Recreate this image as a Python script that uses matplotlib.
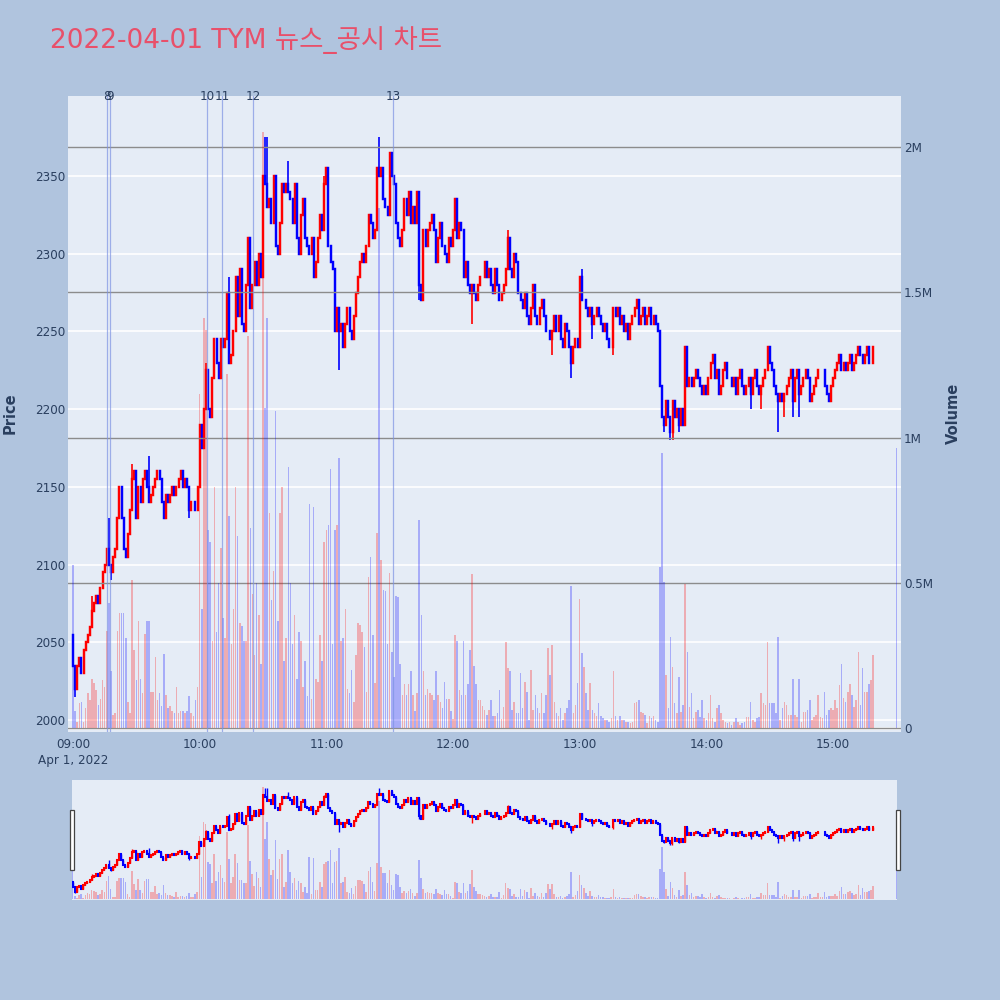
import numpy as np
import pandas as pd
import matplotlib
matplotlib.use("Agg")
import matplotlib.pyplot as plt
import matplotlib.transforms as mtransforms
from matplotlib.patches import Rectangle

plt.rcParams['font.family'] = ['DejaVu Sans', 'Noto Sans CJK KR']

TITLE = '2022-04-01 TYM 뉴스_공시 차트'

# minute close prices, one list per hour
close_09 = [2035, 2020, 2035, 2040, 2030, 2045, 2050, 2055, 2060, 2070,
            2075, 2080, 2075, 2085, 2095, 2100, 2110, 2100, 2095, 2105,
            2110, 2130, 2150, 2130, 2110, 2105, 2120, 2135, 2155, 2160,
            2130, 2150, 2140, 2155, 2160, 2150, 2140, 2145, 2150, 2155,
            2160, 2155, 2140, 2130, 2145, 2140, 2145, 2150, 2145, 2150,
            2155, 2160, 2150, 2155, 2150, 2135, 2140, 2140, 2135, 2150]
close_10 = [2190, 2175, 2200, 2225, 2200, 2195, 2220, 2245, 2230, 2220,
            2245, 2240, 2245, 2275, 2230, 2235, 2250, 2285, 2260, 2290,
            2255, 2250, 2280, 2310, 2265, 2280, 2295, 2280, 2300, 2285,
            2350, 2345, 2330, 2335, 2320, 2350, 2305, 2300, 2320, 2345,
            2340, 2345, 2340, 2335, 2320, 2345, 2310, 2300, 2325, 2335,
            2310, 2305, 2300, 2310, 2285, 2295, 2310, 2325, 2315, 2345]
close_11 = [2355, 2305, 2295, 2290, 2250, 2265, 2250, 2255, 2240, 2255,
            2265, 2250, 2245, 2260, 2275, 2285, 2295, 2300, 2295, 2305,
            2325, 2320, 2310, 2315, 2355, 2350, 2355, 2335, 2330, 2325,
            2365, 2350, 2345, 2320, 2310, 2305, 2315, 2335, 2325, 2340,
            2320, 2330, 2320, 2340, 2280, 2270, 2315, 2305, 2315, 2320,
            2325, 2315, 2295, 2310, 2320, 2305, 2300, 2295, 2310, 2305]
close_12 = [2315, 2335, 2310, 2320, 2315, 2285, 2295, 2280, 2275, 2280,
            2275, 2270, 2280, 2285, 2285, 2295, 2285, 2290, 2280, 2275,
            2290, 2280, 2270, 2275, 2280, 2290, 2310, 2290, 2285, 2300,
            2295, 2275, 2270, 2265, 2275, 2260, 2255, 2265, 2280, 2260,
            2255, 2265, 2270, 2260, 2250, 2250, 2245, 2250, 2260, 2250,
            2260, 2245, 2240, 2255, 2250, 2240, 2230, 2240, 2245, 2240]
close_13 = [2285, 2270, 2270, 2265, 2260, 2265, 2255, 2260, 2265, 2260,
            2255, 2250, 2255, 2245, 2240, 2240, 2265, 2260, 2265, 2255,
            2260, 2250, 2255, 2245, 2255, 2260, 2265, 2270, 2255, 2260,
            2265, 2255, 2260, 2265, 2255, 2260, 2255, 2250, 2215, 2195,
            2190, 2205, 2195, 2185, 2205, 2195, 2200, 2190, 2200, 2190,
            2240, 2215, 2220, 2215, 2220, 2225, 2220, 2215, 2210, 2215]
close_14 = [2210, 2220, 2230, 2235, 2220, 2225, 2210, 2215, 2225, 2230,
            2220, 2220, 2215, 2220, 2210, 2220, 2225, 2215, 2210, 2215,
            2220, 2210, 2220, 2225, 2215, 2210, 2215, 2220, 2225, 2240,
            2230, 2225, 2215, 2210, 2205, 2210, 2205, 2210, 2215, 2220,
            2225, 2205, 2220, 2225, 2210, 2215, 2220, 2225, 2220, 2205,
            2210, 2215, 2220, 2225, 2225, 2225, 2215, 2210, 2205, 2215]
close_15 = [2220, 2225, 2230, 2235, 2225, 2230, 2225, 2230, 2235, 2225,
            2230, 2235, 2240, 2235, 2230, 2235, 2240, 2230, 2230, 2240]

first_open = 2055
auction_price = 2235          # 15:30 closing auction
auction_volume = 964          # thousands

# wick extremes that reach past the body (minute index -> price)
wick_high = {9: 2080, 17: 2130, 28: 2165, 36: 2170, 63: 2230, 74: 2285, 83: 2310,
             91: 2375, 92: 2375, 102: 2360, 119: 2350, 145: 2375, 150: 2365,
             206: 2315, 241: 2290, 268: 2270, 329: 2240, 364: 2235}
wick_low = {1: 2015, 18: 2090, 55: 2130, 126: 2225, 164: 2270, 189: 2255, 227: 2235,
            236: 2220, 246: 2245, 256: 2235, 280: 2185, 283: 2180, 284: 2180,
            287: 2185, 321: 2200, 326: 2200, 334: 2185, 337: 2195, 341: 2195,
            344: 2195, 349: 2205}

# minute volumes in thousands of shares
vol_09 = [560, 60, 20, 85, 90, 20, 70, 120, 95, 170,
          155, 130, 80, 100, 165, 140, 335, 430, 195, 45,
          50, 335, 395, 395, 395, 310, 90, 50, 510, 270,
          165, 370, 170, 120, 325, 370, 370, 125, 125, 245,
          95, 120, 75, 255, 115, 70, 75, 60, 50, 140,
          50, 60, 60, 50, 60, 110, 50, 40, 95, 140]
vol_10 = [1150, 410, 1410, 1370, 680, 640, 300, 830, 330, 500,
          620, 380, 310, 1220, 730, 290, 410, 830, 660, 360,
          350, 300, 300, 1350, 690, 460, 250, 500, 390, 220,
          2050, 1100, 1410, 740, 440, 540, 1090, 370, 740, 830,
          230, 310, 900, 500, 290, 390, 170, 330, 300, 140,
          230, 110, 770, 100, 760, 170, 160, 320, 230, 640]
vol_11 = [680, 700, 890, 290, 680, 700, 930, 300, 310, 410,
          135, 120, 200, 90, 250, 360, 355, 330, 280, 125,
          520, 590, 320, 155, 670, 1790, 580, 475, 470, 290,
          535, 260, 175, 455, 450, 220, 115, 150, 115, 150,
          195, 115, 60, 120, 715, 390, 195, 115, 135, 120,
          115, 95, 195, 115, 90, 70, 160, 100, 100, 60]
vol_12 = [30, 320, 300, 130, 115, 300, 115, 150, 270, 530,
          215, 150, 95, 95, 75, 62, 45, 62, 96, 40,
          40, 50, 130, 30, 73, 297, 205, 195, 62, 90,
          50, 50, 188, 68, 160, 125, 28, 200, 62, 113,
          68, 50, 120, 50, 113, 275, 182, 285, 90, 50,
          40, 68, 28, 50, 68, 96, 490, 50, 80, 155]
vol_13 = [445, 257, 211, 120, 62, 155, 62, 50, 40, 85,
          40, 33, 28, 28, 22, 33, 195, 40, 28, 40,
          28, 28, 22, 22, 16, 22, 85, 90, 96, 56,
          50, 45, 16, 40, 33, 40, 28, 22, 555, 945,
          503, 182, 68, 314, 210, 85, 50, 176, 56, 79,
          497, 262, 73, 119, 33, 56, 62, 39, 96, 33]
vol_14 = [27, 50, 113, 33, 22, 68, 79, 50, 27, 22,
          16, 22, 10, 22, 33, 22, 10, 16, 22, 39,
          39, 90, 27, 22, 33, 39, 119, 85, 79, 297,
          85, 85, 85, 50, 314, 27, 68, 90, 79, 45,
          45, 170, 45, 39, 170, 22, 56, 56, 62, 96,
          27, 39, 45, 113, 39, 33, 125, 45, 62, 68]
vol_15 = [62, 96, 68, 148, 222, 102, 90, 125, 153, 113,
          73, 96, 262, 79, 205, 125, 125, 153, 165, 250]

# news / disclosure times and their numbers
news_times = ['09:16:00', '09:17:30', '10:03:25', '10:10:40', '10:25:25', '11:31:40']
news_labels = ['8', '9', '10', '11', '12', '13']

x_ticks = ['09:00', '10:00', '11:00', '12:00', '13:00', '14:00', '15:00']
vol_ticks = [0, 0.5e6, 1e6, 1.5e6, 2e6]
vol_tick_labels = ['0', '0.5M', '1M', '1.5M', '2M']

UP, DOWN = '#ff0000', '#0000ff'
TXT = '#2a3f5f'
DAY = '2022-04-01'


def to_minutes(times):
    t = pd.to_datetime([f'{DAY} {s}' for s in times])
    return np.asarray((t - pd.Timestamp(f'{DAY} 09:00')).total_seconds() / 60.0)


def build_candles():
    closes = close_09 + close_10 + close_11 + close_12 + close_13 + close_14 + close_15
    n = len(closes)
    stamps = pd.date_range(f'{DAY} 09:00', periods=n, freq='min').strftime('%H:%M:%S').tolist()
    stamps.append('15:30:00')
    c = np.array(closes + [auction_price], float)
    prev = np.r_[first_open, c[:-1]].astype(float)
    o = np.r_[prev[:n], auction_price]
    h = np.maximum(o, c)
    l = np.minimum(o, c)
    for k, val in wick_high.items():
        h[k] = max(h[k], val)
    for k, val in wick_low.items():
        l[k] = min(l[k], val)
    v = np.array(vol_09 + vol_10 + vol_11 + vol_12 + vol_13 + vol_14 + vol_15 + [auction_volume],
                 float) * 1000
    return to_minutes(stamps), o, h, l, c, prev, v


def draw_candles(ax, x, o, h, l, c, wick_lw, body_lw):
    col = np.where(c >= o, UP, DOWN)
    ax.vlines(x, l, h, colors=col, lw=wick_lw, zorder=3)
    body = ax.vlines(x, np.minimum(o, c), np.maximum(o, c), colors=col, lw=body_lw, zorder=3)
    body.set_capstyle('projecting')


def draw_volume(ax, x, prev, c, v, width):
    # bar colour follows the move from the previous close
    col = np.where(c >= prev, UP, DOWN)
    ax.bar(x, v, width=width, color=col, alpha=0.27, lw=0, zorder=2)


x, o, h, l, c, prev, v = build_candles()

PRICE_LIM = (1992.3, 2401.5)
VOL_LIM = (-0.0138e6, 2.1756e6)
TICK_PT = 8.64

fig = plt.figure(figsize=(10, 10), dpi=100)
fig.patch.set_facecolor('#b0c4de')

# main price panel
ax = fig.add_axes([0.068, 0.268, 0.833, 0.636])
ax.set_facecolor('#e5ecf6')
ax.set_xlim(-2.37, 392.2)
ax.set_ylim(*PRICE_LIM)
for s in ax.spines.values():
    s.set_visible(False)
ax.set_yticks(range(2000, 2351, 50))
ax.yaxis.grid(True, color='white', lw=1.2)
ax.set_axisbelow(True)
ax.tick_params(axis='y', length=0, pad=2, labelsize=TICK_PT, labelcolor=TXT)
ax.set_xticks(to_minutes([t + ':00' for t in x_ticks]))
ax.set_xticklabels([x_ticks[0] + '\nApr 1, 2022'] + x_ticks[1:], linespacing=1.3)
ax.tick_params(axis='x', length=0, pad=4, labelsize=TICK_PT, labelcolor=TXT)
draw_candles(ax, x, o, h, l, c, wick_lw=1.2, body_lw=1.75)

# volume on the secondary axis, drawn on top like plotly
ax2 = ax.twinx()
ax2.set_ylim(*VOL_LIM)
for s in ax2.spines.values():
    s.set_visible(False)
ax2.set_yticks(vol_ticks)
ax2.set_yticklabels(vol_tick_labels)
ax2.tick_params(axis='y', length=0, pad=2, labelsize=TICK_PT, labelcolor=TXT)
ax2.yaxis.grid(True, color='#8c8c8c', lw=1.0)
ax2.axhline(0, color='white', lw=1.8, zorder=1)
draw_volume(ax2, x, prev, c, v, width=0.75)

# news markers (8 and 9 sit almost on top of each other, as in the source chart)
news_x = to_minutes(news_times)
trans = mtransforms.blended_transform_factory(ax2.transData, ax2.transAxes)
for nx, lab in zip(news_x, news_labels):
    ax2.axvline(nx, color='#7d93e3', lw=0.9, alpha=0.7, zorder=4)
    ax2.text(nx, 1.0, lab, transform=trans, ha='center', va='center',
             fontsize=TICK_PT, color=TXT, zorder=6, clip_on=False)

fig.text(0.010, 0.587, 'Price', rotation=90, ha='center', va='center',
         fontsize=10.5, color=TXT, fontweight='bold')
fig.text(0.953, 0.587, 'Volume', rotation=90, ha='center', va='center',
         fontsize=10.5, color=TXT, fontweight='bold')
fig.text(0.05, 0.960, TITLE, ha='left', va='center', fontsize=19, color='#e8506a')

# range slider
sl = fig.add_axes([0.072, 0.100, 0.825, 0.120])
sl.set_facecolor('#e5ecf6')
sl.set_xlim(-0.3, 390.3)
sl.set_ylim(*PRICE_LIM)
sl.set_xticks([])
sl.set_yticks([])
for s in sl.spines.values():
    s.set_visible(False)
draw_candles(sl, x, o, h, l, c, wick_lw=1.0, body_lw=1.5)
sl2 = sl.twinx()
sl2.set_ylim(*VOL_LIM)
sl2.set_yticks([])
for s in sl2.spines.values():
    s.set_visible(False)
draw_volume(sl2, x, prev, c, v, width=0.75)

for hx in (0.0695, 0.8955):
    fig.add_artist(Rectangle((hx, 0.130), 0.004, 0.060, transform=fig.transFigure,
                             facecolor='white', edgecolor='#444444', lw=0.9))

fig.savefig('out.png', dpi=100, facecolor=fig.get_facecolor())
